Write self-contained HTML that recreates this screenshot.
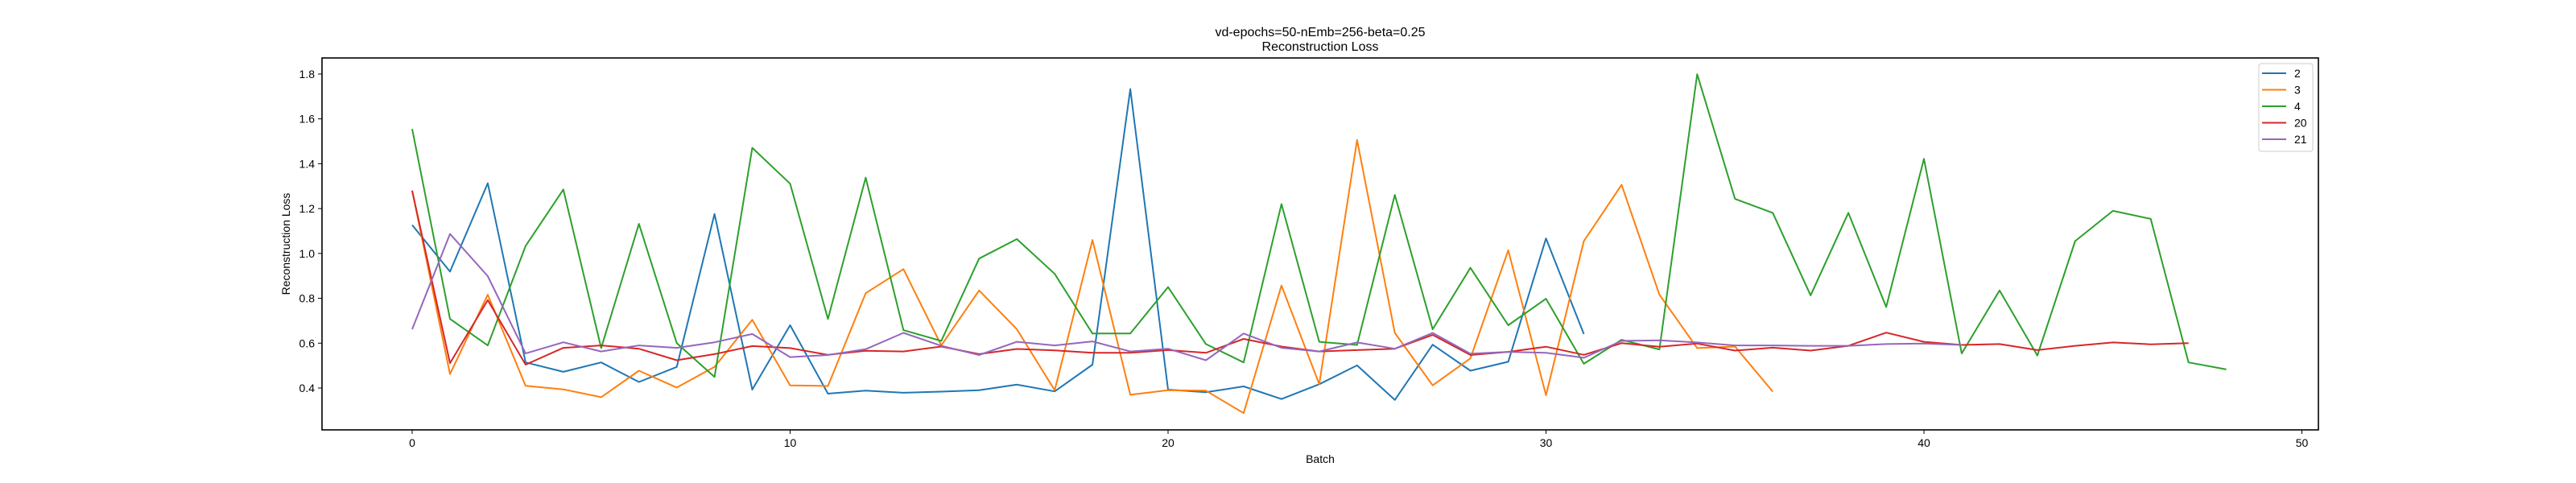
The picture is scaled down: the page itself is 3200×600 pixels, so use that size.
<!DOCTYPE html>
<html><head><meta charset="utf-8"><style>
html,body{margin:0;padding:0;background:#fff;}
svg{display:block;font-family:"Liberation Sans","DejaVu Sans",sans-serif;}
</style></head><body>
<svg id="chart" width="3200" height="600" viewBox="0 0 3200 600" xmlns="http://www.w3.org/2000/svg">
<text x="1640" y="45" font-size="16" text-anchor="middle">vd-epochs=50-nEmb=256-beta=0.25</text>
<text x="1640" y="63" font-size="16" text-anchor="middle">Reconstruction Loss</text>
<g id="plot"></g>
<rect x="400" y="72" width="2480" height="462" fill="none" stroke="#000" stroke-width="1.6"/>
<text x="1640" y="575" font-size="14" text-anchor="middle">Batch</text>
<text x="0" y="0" font-size="14" text-anchor="middle" transform="translate(360,303) rotate(-90)">Reconstruction Loss</text>
<g id="legend"></g>
</svg>
<script>
const seriesNames = ["2","3","4","20","21"];
const seriesColors = ["#1f77b4","#ff7f0e","#2ca02c","#d62728","#9467bd"];
const s2 = [1.127,0.919,1.313,0.514,0.472,0.514,0.427,0.494,1.176,0.393,0.680,0.375,0.388,0.379,0.384,0.390,0.415,0.385,0.504,1.733,0.393,0.381,0.407,0.351,0.417,0.501,0.347,0.593,0.477,0.517,1.067,0.641];
const s3 = [1.28,0.462,0.816,0.410,0.394,0.359,0.477,0.402,0.494,0.704,0.412,0.409,0.823,0.930,0.590,0.835,0.662,0.390,1.060,0.370,0.390,0.388,0.288,0.857,0.417,1.506,0.646,0.412,0.532,1.014,0.368,1.055,1.306,0.816,0.578,0.585,0.384];
const s4 = [1.555,0.708,0.590,1.033,1.285,0.578,1.132,0.600,0.449,1.471,1.311,0.708,1.338,0.658,0.610,0.977,1.064,0.909,0.643,0.643,0.850,0.596,0.514,1.220,0.606,0.592,1.261,0.662,0.936,0.680,0.798,0.508,0.615,0.572,1.799,1.243,1.181,0.813,1.181,0.761,1.422,0.554,0.835,0.545,1.055,1.190,1.154,0.514,0.483];
const s20 = [1.28,0.511,0.792,0.504,0.579,0.590,0.575,0.524,0.551,0.587,0.578,0.548,0.566,0.563,0.585,0.551,0.574,0.568,0.557,0.557,0.569,0.557,0.619,0.585,0.563,0.569,0.575,0.637,0.547,0.561,0.584,0.548,0.600,0.584,0.598,0.567,0.580,0.567,0.588,0.647,0.606,0.592,0.596,0.569,0.588,0.603,0.595,0.600];
const s21 = [0.662,1.087,0.899,0.554,0.604,0.563,0.590,0.579,0.604,0.641,0.538,0.547,0.573,0.646,0.588,0.547,0.606,0.590,0.608,0.563,0.575,0.524,0.643,0.579,0.563,0.603,0.575,0.646,0.553,0.561,0.557,0.535,0.610,0.613,0.603,0.590,0.590,0.588,0.588,0.596,0.598,0.592];
const xTicks = [0,10,20,30,40,50];
const yTicks = [0.4,0.6,0.8,1.0,1.2,1.4,1.6,1.8];
const allSeries = [s2,s3,s4,s20,s21];

const NS = "http://www.w3.org/2000/svg";
function xs(v){ return 512 + v*46.95; }
function ys(v){ return 482 - (v-0.4)*278.6; }
const plot = document.getElementById('plot');
const svg = document.getElementById('chart');

xTicks.forEach(t=>{
  const l=document.createElementNS(NS,'line');
  
  
  l.setAttribute('x1',xs(t));l.setAttribute('x2',xs(t));l.setAttribute('y1',534);l.setAttribute('y2',539);l.setAttribute('stroke','#000');
  svg.appendChild(l);
  const tx=document.createElementNS(NS,'text');
  
  
  tx.setAttribute('x',xs(t));tx.setAttribute('y',555);tx.setAttribute('font-size','14');tx.setAttribute('text-anchor','middle');
  tx.textContent=t; svg.appendChild(tx);
});
yTicks.forEach(t=>{
  const l=document.createElementNS(NS,'line');
  
  
  l.setAttribute('x1',395);l.setAttribute('x2',400);l.setAttribute('y1',ys(t));l.setAttribute('y2',ys(t));l.setAttribute('stroke','#000');
  svg.appendChild(l);
  const tx=document.createElementNS(NS,'text');
  
  
  tx.setAttribute('x',391);tx.setAttribute('y',ys(t)+5);tx.setAttribute('font-size','14');tx.setAttribute('text-anchor','end');
  tx.textContent=t.toFixed(1); svg.appendChild(tx);
});
allSeries.forEach((s,i)=>{
  const p=document.createElementNS(NS,'polyline');
  
  
  p.setAttribute('points',s.map((v,j)=>xs(j).toFixed(1)+','+ys(v).toFixed(1)).join(' '));
  p.setAttribute('fill','none');p.setAttribute('stroke',seriesColors[i]);p.setAttribute('stroke-width','2');p.setAttribute('stroke-linejoin','round');
  plot.appendChild(p);
});
const lg=document.getElementById('legend');
const box=document.createElementNS(NS,'rect');


box.setAttribute('x',2806);box.setAttribute('y',79);box.setAttribute('width',67);box.setAttribute('height',109);box.setAttribute('rx',3);
box.setAttribute('fill','#fff');box.setAttribute('fill-opacity','0.8');box.setAttribute('stroke','#ccc');
lg.appendChild(box);
seriesNames.forEach((n,i)=>{
  const y=91+i*20.5;
  const l=document.createElementNS(NS,'line');
  
  
  l.setAttribute('x1',2810);l.setAttribute('x2',2840);l.setAttribute('y1',y);l.setAttribute('y2',y);l.setAttribute('stroke',seriesColors[i]);l.setAttribute('stroke-width','2');
  lg.appendChild(l);
  const t=document.createElementNS(NS,'text');
  
  
  t.setAttribute('x',2850);t.setAttribute('y',y+5);t.setAttribute('font-size','14');
  t.textContent=n; lg.appendChild(t);
});
</script>
</body></html>
